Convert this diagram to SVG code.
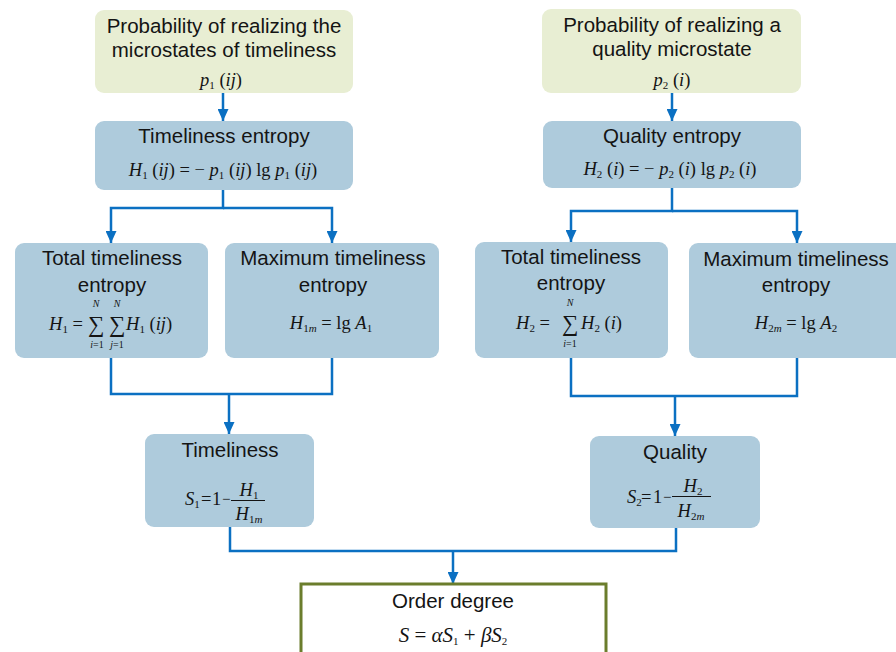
<svg xmlns="http://www.w3.org/2000/svg" width="896" height="652" viewBox="0 0 896 652">
<defs>
<style>
.g{fill:#e8eed3;stroke:none}
.b{fill:#aecbdc;stroke:none}
.o{fill:#ffffff;stroke:#6b7d2c;stroke-width:3}
.t{font-family:"Liberation Sans",Arial,sans-serif;font-size:20.5px;fill:#141414;text-anchor:middle}
.m{font-family:"Liberation Serif","Times New Roman",serif;font-size:18.5px;fill:#141414;font-style:italic}
.mc{text-anchor:middle}
.r{font-style:normal}
.mn{font-size:15px}
.s{font-size:11px;font-style:normal}
.si{font-size:11px;font-style:italic}
.lim{font-family:"Liberation Serif","Times New Roman",serif;font-size:10px;fill:#141414;font-style:italic;text-anchor:middle}
.sig{font-family:"Liberation Serif","Times New Roman",serif;font-size:23px;fill:#141414;font-style:normal}
.c{fill:none;stroke:#0b70c2;stroke-width:2.5}
.bar{stroke:#141414;stroke-width:1}
</style>
<marker id="ah" markerUnits="userSpaceOnUse" markerWidth="12" markerHeight="11" refX="12" refY="5.5" orient="auto">
<path d="M0,0 L12,5.5 L0,11 z" fill="#0b70c2"/>
</marker>
</defs>

<g id="connectors">
<path class="c" d="M223,93 V121" marker-end="url(#ah)"/>
<path class="c" d="M223,190 V208 H111 V243" marker-end="url(#ah)"/>
<path class="c" d="M223,208 H332 V243" marker-end="url(#ah)"/>
<path class="c" d="M111,358 V394 H332 V358"/>
<path class="c" d="M229,394 V434" marker-end="url(#ah)"/>
<path class="c" d="M672,93 V121" marker-end="url(#ah)"/>
<path class="c" d="M672,188 V211 H571 V242" marker-end="url(#ah)"/>
<path class="c" d="M672,211 H797 V243" marker-end="url(#ah)"/>
<path class="c" d="M571,358 V396 H797 V358"/>
<path class="c" d="M675,396 V436" marker-end="url(#ah)"/>
<path class="c" d="M230,527 V551 H676 V528"/>
<path class="c" d="M453,551 V584" marker-end="url(#ah)"/>
</g>

<g id="node-p1">
<rect class="g" x="95" y="10" width="258" height="83" rx="9"/>
<text class="t" x="224" y="33">Probability of realizing the</text>
<text class="t" x="224" y="57">microstates of timeliness</text>
<text class="m mc" x="221" y="86">p<tspan class="s" dy="3">1</tspan><tspan class="r" dy="-3"> (</tspan>ij<tspan class="r">)</tspan></text>
</g>

<g id="node-h1">
<rect class="b" x="95" y="121" width="258" height="69" rx="9"/>
<text class="t" x="224" y="143">Timeliness entropy</text>
<text class="m mc" x="223" y="176">H<tspan class="s" dy="3">1</tspan><tspan class="r" dy="-3"> (</tspan>ij<tspan class="r">) = − </tspan>p<tspan class="s" dy="3">1</tspan><tspan class="r" dy="-3"> (</tspan>ij<tspan class="r">) lg </tspan>p<tspan class="s" dy="3">1</tspan><tspan class="r" dy="-3"> (</tspan>ij<tspan class="r">)</tspan></text>
</g>

<g id="node-total1">
<rect class="b" x="15" y="243" width="193" height="115" rx="9"/>
<text class="t" x="112" y="265">Total timeliness</text>
<text class="t" x="112" y="292">entropy</text>
<text class="m" x="49" y="330">H<tspan class="s" dy="3">1</tspan><tspan class="r" dy="-3"> =</tspan></text>
<text class="sig" x="88" y="332">∑</text>
<text class="sig" x="109" y="332">∑</text>
<text class="lim" x="96" y="307">N</text>
<text class="lim" x="97" y="348">i<tspan class="r">=1</tspan></text>
<text class="lim" x="117" y="307">N</text>
<text class="lim" x="117" y="348">j<tspan class="r">=1</tspan></text>
<text class="m" x="126" y="330">H<tspan class="s" dy="3">1</tspan><tspan class="r" dy="-3"> (</tspan>ij<tspan class="r">)</tspan></text>
</g>

<g id="node-max1">
<rect class="b" x="225" y="243" width="214" height="115" rx="9"/>
<text class="t" x="333" y="265">Maximum timeliness</text>
<text class="t" x="333" y="292">entropy</text>
<text class="m mc" x="331" y="329">H<tspan class="s" dy="3">1</tspan><tspan class="si">m</tspan><tspan class="r" dy="-3"> = lg </tspan>A<tspan class="s" dy="3">1</tspan></text>
</g>

<g id="node-s1">
<rect class="b" x="145" y="434" width="169" height="93" rx="9"/>
<text class="t" x="230" y="457">Timeliness</text>
<text class="m" x="185" y="505">S<tspan class="s" dy="3">1</tspan></text>
<text class="m r" x="201" y="505">=</text>
<text class="m r" x="212" y="505">1</text>
<text class="m r mn" x="222" y="504">−</text>
<line class="bar" x1="231" y1="500.5" x2="265" y2="500.5"/>
<text class="m mc" x="249" y="496">H<tspan class="s" dy="3">1</tspan></text>
<text class="m mc" x="249" y="520">H<tspan class="s" dy="3">1</tspan><tspan class="si">m</tspan></text>
</g>

<g id="node-p2">
<rect class="g" x="542" y="9" width="259" height="84" rx="9"/>
<text class="t" x="672" y="32">Probability of realizing a</text>
<text class="t" x="672" y="56">quality microstate</text>
<text class="m mc" x="672" y="86">p<tspan class="s" dy="3">2</tspan><tspan class="r" dy="-3"> (</tspan>i<tspan class="r">)</tspan></text>
</g>

<g id="node-h2">
<rect class="b" x="543" y="121" width="258" height="67" rx="9"/>
<text class="t" x="672" y="143">Quality entropy</text>
<text class="m mc" x="670" y="175">H<tspan class="s" dy="3">2</tspan><tspan class="r" dy="-3"> (</tspan>i<tspan class="r">) = − </tspan>p<tspan class="s" dy="3">2</tspan><tspan class="r" dy="-3"> (</tspan>i<tspan class="r">) lg </tspan>p<tspan class="s" dy="3">2</tspan><tspan class="r" dy="-3"> (</tspan>i<tspan class="r">)</tspan></text>
</g>

<g id="node-total2">
<rect class="b" x="475" y="242" width="193" height="116" rx="9"/>
<text class="t" x="571" y="264">Total timeliness</text>
<text class="t" x="571" y="290">entropy</text>
<text class="m" x="516" y="329">H<tspan class="s" dy="3">2</tspan><tspan class="r" dy="-3"> =</tspan></text>
<text class="sig" x="562" y="331">∑</text>
<text class="lim" x="570" y="306">N</text>
<text class="lim" x="570" y="347">i<tspan class="r">=1</tspan></text>
<text class="m" x="581" y="329">H<tspan class="s" dy="3">2</tspan><tspan class="r" dy="-3"> (</tspan>i<tspan class="r">)</tspan></text>
</g>

<g id="node-max2">
<rect class="b" x="689" y="243" width="220" height="115" rx="9"/>
<text class="t" x="796" y="266">Maximum timeliness</text>
<text class="t" x="796" y="292">entropy</text>
<text class="m mc" x="796" y="329">H<tspan class="s" dy="3">2</tspan><tspan class="si">m</tspan><tspan class="r" dy="-3"> = lg </tspan>A<tspan class="s" dy="3">2</tspan></text>
</g>

<g id="node-s2">
<rect class="b" x="590" y="436" width="170" height="92" rx="9"/>
<text class="t" x="675" y="459">Quality</text>
<text class="m" x="627" y="503">S<tspan class="s" dy="3">2</tspan></text>
<text class="m r" x="641" y="503">=</text>
<text class="m r" x="653" y="503">1</text>
<text class="m r mn" x="663" y="502">−</text>
<line class="bar" x1="672" y1="496.5" x2="711" y2="496.5"/>
<text class="m mc" x="693" y="492">H<tspan class="s" dy="3">2</tspan></text>
<text class="m mc" x="691" y="517">H<tspan class="s" dy="3">2</tspan><tspan class="si">m</tspan></text>
</g>

<g id="node-order">
<rect class="o" x="301" y="584" width="305" height="80"/>
<text class="t" x="453" y="608">Order degree</text>
<text class="m mc" x="453" y="642" style="font-size:21px">S<tspan class="r"> = </tspan>αS<tspan class="s" dy="3">1</tspan><tspan class="r" dy="-3"> + </tspan>βS<tspan class="s" dy="3">2</tspan></text>
</g>
</svg>
